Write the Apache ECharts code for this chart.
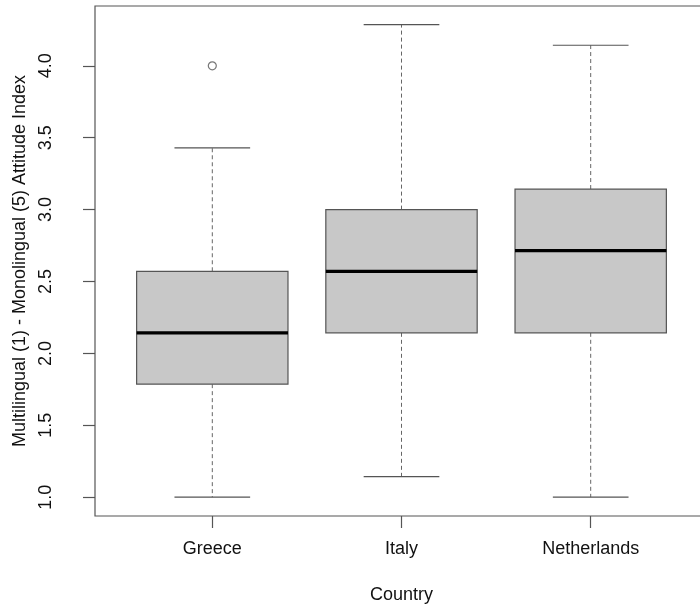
<!DOCTYPE html>
<html>
<head>
<meta charset="utf-8">
<title>Attitude Index by Country</title>
<script src="https://cdn.jsdelivr.net/npm/echarts@6/dist/echarts.min.js"></script>
<style>
  html, body { margin: 0; padding: 0; background: #fff; }
  #chart { width: 700px; height: 611px; }
</style>
</head>
<body>
<div id="chart"></div>
<script>
// Five-number summaries per country
const categories = ['Greece', 'Italy', 'Netherlands'];
const lowerWhisker = [1.0, 1.143, 1.0];
const lowerQuartile = [1.786, 2.143, 2.143];
const medians = [2.143, 2.571, 2.714];
const upperQuartile = [2.571, 3.0, 3.143];
const upperWhisker = [3.429, 4.286, 4.143];
// Points beyond the whiskers: [category index, value]
const outliers = [[0, 4.0]];
// Tick values on the value axis
const yTicks = [1.0, 1.5, 2.0, 2.5, 3.0, 3.5, 4.0];

const FONT = 'Liberation Sans, Arial, sans-serif';
const LINE = '#555';

const boxData = categories.map((c, k) => [
  k + 1, lowerWhisker[k], lowerQuartile[k], medians[k], upperQuartile[k], upperWhisker[k]
]);
const outlierData = outliers.map(o => [o[0] + 1, o[1]]);

function renderBox(params, api) {
  const x = api.value(0);
  const lw = api.value(1), q1 = api.value(2), med = api.value(3), q3 = api.value(4), uw = api.value(5);
  const half = 0.4, capHalf = 0.2;
  const tl = api.coord([x - half, q3]);
  const br = api.coord([x + half, q1]);
  const cx = api.coord([x, 0])[0];
  const pUw = api.coord([x, uw]), pLw = api.coord([x, lw]);
  const capL = api.coord([x - capHalf, 0])[0], capR = api.coord([x + capHalf, 0])[0];
  const pMed = api.coord([x, med]);
  const dashStyle = { stroke: '#666', lineWidth: 1, lineDash: [4, 3], fill: null };
  const solid = { stroke: LINE, lineWidth: 1.2, fill: null };
  return {
    type: 'group',
    children: [
      { type: 'line', shape: { x1: cx, y1: tl[1], x2: cx, y2: pUw[1] }, style: dashStyle },
      { type: 'line', shape: { x1: cx, y1: br[1], x2: cx, y2: pLw[1] }, style: dashStyle },
      { type: 'line', shape: { x1: capL, y1: pUw[1], x2: capR, y2: pUw[1] }, style: solid },
      { type: 'line', shape: { x1: capL, y1: pLw[1], x2: capR, y2: pLw[1] }, style: solid },
      { type: 'rect', shape: { x: tl[0], y: tl[1], width: br[0] - tl[0], height: br[1] - tl[1] },
        style: { fill: '#c8c8c8', stroke: LINE, lineWidth: 1.2 } },
      { type: 'line', shape: { x1: tl[0], y1: pMed[1], x2: br[0], y2: pMed[1] },
        style: { stroke: '#000', lineWidth: 3.2 } }
    ]
  };
}

const chart = echarts.init(document.getElementById('chart'), null, { renderer: 'canvas' });
chart.setOption({
  backgroundColor: '#fff',
  animation: false,
  grid: {
    left: 95, top: 6, width: 613, height: 510,
    outerBoundsMode: 'none',
    containLabel: false,
    show: true, borderColor: LINE, borderWidth: 1.2, backgroundColor: 'transparent'
  },
  xAxis: {
    type: 'value',
    min: 0.38, max: 3.62,
    name: 'Country',
    nameLocation: 'middle',
    nameGap: 70,
    nameTextStyle: { fontFamily: FONT, fontSize: 18, color: '#111' },
    splitLine: { show: false },
    axisLine: { show: false },
    axisTick: { show: true, length: 12, lineStyle: { color: LINE, width: 1.2 }, customValues: [1, 2, 3] },
    axisLabel: {
      customValues: [1, 2, 3],
      margin: 24,
      fontFamily: FONT, fontSize: 18, color: '#111',
      formatter: v => categories[Math.round(v) - 1] || ''
    }
  },
  yAxis: {
    type: 'value',
    min: 0.869, max: 4.416,
    name: 'Multilingual (1) - Monolingual (5) Attitude Index',
    nameLocation: 'middle',
    nameRotate: 90,
    nameGap: 65,
    nameTextStyle: { fontFamily: FONT, fontSize: 18, color: '#111' },
    splitLine: { show: false },
    axisLine: { show: false },
    axisTick: { show: true, length: 12, lineStyle: { color: LINE, width: 1.2 }, customValues: yTicks },
    axisLabel: {
      customValues: yTicks,
      rotate: 90,
      align: 'center',
      verticalAlign: 'bottom',
      margin: 40,
      fontFamily: FONT, fontSize: 18, color: '#111',
      formatter: v => v.toFixed(1)
    }
  },
  series: [
    {
      type: 'custom',
      renderItem: renderBox,
      encode: { x: 0, y: [1, 2, 3, 4, 5] },
      data: boxData,
      z: 2
    },
    {
      type: 'scatter',
      data: outlierData,
      symbol: 'circle',
      symbolSize: 8,
      itemStyle: { color: '#fff', borderColor: LINE, borderWidth: 1.2 },
      z: 3
    }
  ]
});
</script>
</body>
</html>
